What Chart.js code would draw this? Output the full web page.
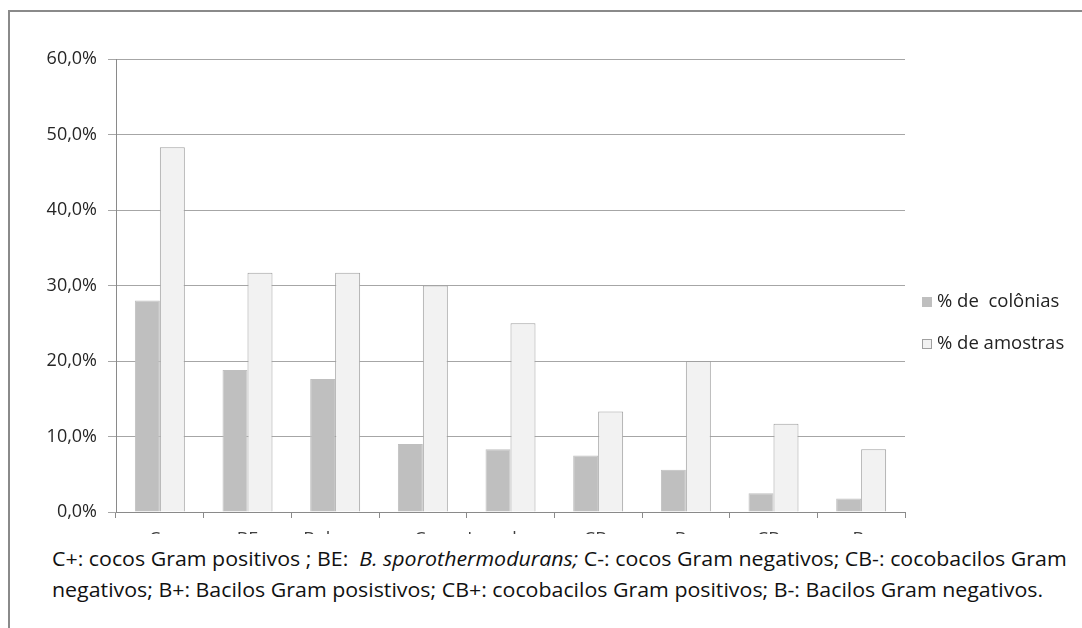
<!DOCTYPE html>
<html>
    <head>
        <title>Colônias e amostras</title>
        <script src="https://cdn.jsdelivr.net/npm/chart.js@4"></script>
        <style>
            body { margin: 0; background: #fff; }
            #wrap { position: relative; width: 1082px; height: 628px; overflow: hidden; }
            #frame {
                position: absolute; left: 8px; top: 10px; width: 1200px; height: 700px;
                border-left: 2px solid #8a8a8a; border-top: 2px solid #8a8a8a;
            }
            #chart { position: absolute; left: 0; top: 0; }
            #caption {
                position: absolute; left: 10px; top: 534px; width: 1072px; height: 94px;
                background: #fff;
            }
            #caption div {
                position: absolute; left: 42px; top: 9px;
                transform: scaleX(1.095); transform-origin: 0 0;
                font-family: 'Open Sans', sans-serif; font-size: 19.5px; line-height: 31px;
                color: #111; white-space: nowrap;
            }
        </style>
    </head>
    <body>
        <div id="wrap">
            <div id="frame"></div>
            <canvas id="chart" width="1082" height="628"></canvas>
            <div id="caption"><div>
                C+: cocos Gram positivos ; BE:&nbsp; <i>B. sporothermodurans;</i> C-: cocos Gram negativos; CB-: cocobacilos Gram<br>
                negativos; B+: Bacilos Gram posistivos; CB+: cocobacilos Gram positivos; B-: Bacilos Gram negativos.
            </div></div>
        </div>

        <script>
            // categories (x labels are mostly hidden under the caption, as in the original)
            const categories = ['C+', 'BE', 'Bolores', 'C-', 'Leveduras', 'CB-', 'B+', 'CB+', 'B-']
            const colonias = [28.0, 18.8, 17.6, 9.0, 8.3, 7.5, 5.6, 2.5, 1.8]
            const amostras = [48.3, 31.7, 31.7, 30.0, 25.0, 13.3, 20.0, 11.7, 8.3]
            const yTicks = [0, 10, 20, 30, 40, 50, 60]

            const fmt = v => v.toFixed(1).replace('.', ',') + '%'

            // legend drawn next to the plot, Excel style
            const sideLegend = {
                id: 'sideLegend',
                afterDraw(chart) {
                    const ctx = chart.ctx
                    const x = chart.chartArea.right + 17
                    const ys = [302, 344]
                    ctx.save()
                    ctx.font = '18.5px "Open Sans", sans-serif'
                    ctx.textBaseline = 'middle'
                    chart.data.datasets.forEach((ds, i) => {
                        ctx.fillStyle = ds.backgroundColor
                        ctx.fillRect(x, ys[i] - 5, 10, 10)
                        ctx.strokeStyle = ds.borderColor
                        ctx.lineWidth = 1
                        ctx.strokeRect(x + 0.5, ys[i] - 4.5, 9, 9)
                        ctx.fillStyle = '#222'
                        ctx.fillText(ds.label, x + 15, ys[i])
                    })
                    ctx.restore()
                },
            }

            const chart = new Chart(document.getElementById('chart'), {
                type: 'bar',
                data: {
                    labels: categories,
                    datasets: [
                        {
                            label: '% de  colônias',
                            data: colonias,
                            backgroundColor: '#bfbfbf',
                            borderColor: '#bfbfbf',
                            borderWidth: 1,
                        },
                        {
                            label: '% de amostras',
                            data: amostras,
                            backgroundColor: '#f2f2f2',
                            borderColor: '#a0a0a0',
                            borderWidth: 1,
                        },
                    ],
                },
                options: {
                    responsive: false,
                    animation: false,
                    layout: { padding: { top: 59, right: 177, bottom: 0, left: 0 } },
                    plugins: { legend: { display: false }, tooltip: { enabled: false } },
                    datasets: { bar: { categoryPercentage: 0.57, barPercentage: 1 } },
                    scales: {
                        x: {
                            grid: {
                                offset: true,
                                drawOnChartArea: false,
                                tickLength: 6,
                                color: '#8a8a8a',
                            },
                            border: { color: '#8a8a8a' },
                            ticks: {
                                padding: 11.5,
                                color: '#404040',
                                font: { family: 'Open Sans', size: 18 },
                                maxRotation: 0,
                                autoSkip: false,
                            },
                            afterFit: s => { s.height = 628 - 512 },
                        },
                        y: {
                            min: 0,
                            max: 60,
                            afterBuildTicks: s => { s.ticks = yTicks.map(v => ({ value: v })) },
                            grid: { color: '#a6a6a6', tickLength: 8 },
                            border: { color: '#8a8a8a' },
                            ticks: {
                                padding: 11,
                                color: '#262626',
                                font: { family: 'Open Sans', size: 18 },
                                callback: v => fmt(v),
                            },
                            afterFit: s => { s.width = 116 },
                        },
                    },
                },
                plugins: [sideLegend],
            })
        </script>
    </body>
</html>
